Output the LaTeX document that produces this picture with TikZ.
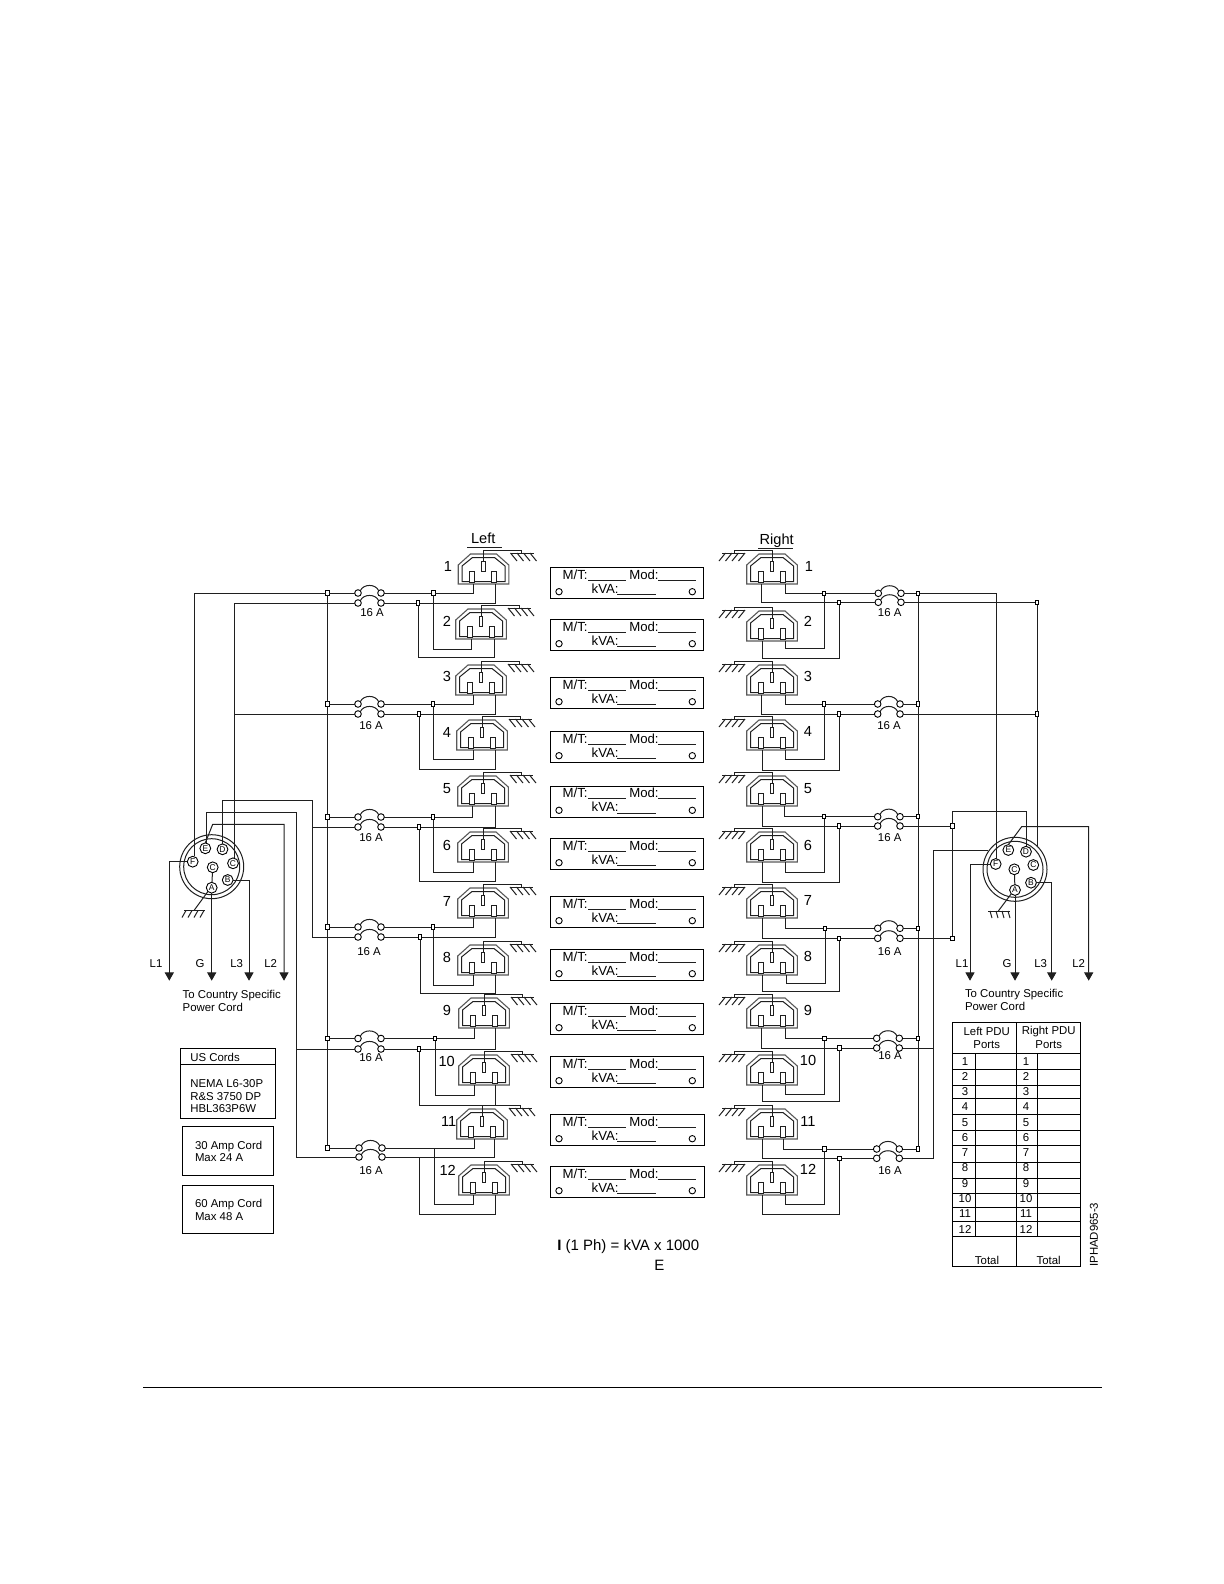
\documentclass[tikz,border=0pt]{standalone}
\usepackage{fontspec}
\setmainfont{Liberation Sans}
\usetikzlibrary{arrows.meta}
\newcommand{\fsS}{\fontsize{5.7bp}{6.7bp}\selectfont}
\newcommand{\fsM}{\fontsize{6.6bp}{7.6bp}\selectfont}
\newcommand{\fsL}{\fontsize{7.3bp}{8.3bp}\selectfont}
\newcommand{\fsF}{\fontsize{7.5bp}{8.5bp}\selectfont}
\newcommand{\fsP}{\fontsize{4.2bp}{5bp}\selectfont}
\tikzset{
  x=0.5bp,y=-0.5bp,
  wire/.style={line width=0.5bp,black!88},
  shell/.style={line width=0.55bp,black!65},
  frame/.style={line width=0.5bp,black},
  txt/.style={inner sep=0pt,outer sep=0pt,font=\fsS},
  txtm/.style={inner sep=0pt,outer sep=0pt,font=\fsM},
  txtl/.style={inner sep=0pt,outer sep=0pt,font=\fsL},
  txtf/.style={inner sep=0pt,outer sep=0pt,font=\fsF},
  jsq/.style={draw,line width=0.5bp,fill=white,rectangle,minimum width=1.9bp,minimum height=2.2bp,inner sep=0pt,outer sep=0pt},
  jno/.style={inner sep=0pt,outer sep=0pt,minimum size=0pt},
  brk/.style={draw,line width=0.45bp,circle,fill=white,minimum size=3.3bp,inner sep=0pt,outer sep=0pt},
  plug/.style={draw,line width=0.45bp,circle,fill=white,minimum size=5.4bp,inner sep=0pt,outer sep=0pt,font=\fsP},
  hole/.style={draw,line width=0.45bp,circle,minimum size=3.2bp,inner sep=0pt,outer sep=0pt},
  tip/.style={-{Triangle[width=4.6bp,length=4.2bp]}},
}
% outlet: x, top y, horizontal mirror (1 = earth on right, -1 = earth on left)
\newcommand{\outlet}[3]{%
  \begin{scope}[shift={(#1,#2)}]
    \draw[shell] (-25.3,30) -- (-25.3,11) -- (-13,0) -- (13,0) -- (25.3,11) -- (25.3,30) -- cycle;
    \draw[wire] (-21.5,27.5) -- (-21.5,12) -- (-11,3.5) -- (11,3.5) -- (21.5,12) -- (21.5,27.5) -- cycle;
    \draw[wire,fill=white] (-1.7,7.7) rectangle (1.7,17.7);
    \draw[wire,fill=white] (-14,17.7) rectangle (-9,28.2);
    \draw[wire,fill=white] (8,17.7) rectangle (13,28.2);
    \begin{scope}[xscale=#3]
      \draw[wire] (0,7.7) -- (0,-3.8) -- (38,-3.8) -- (38,-1);
      \draw[wire] (27,-1) -- (50,-1);
      \draw[wire] (27,-1) -- ++(6.5,8);
      \draw[wire] (33.5,-1) -- ++(6.5,8);
      \draw[wire] (40,-1) -- ++(6.5,8);
      \draw[wire] (46.5,-1) -- ++(6.5,8);
    \end{scope}
  \end{scope}}
\newcommand{\breaker}[7]{% name, xl, xr, y1, y2, label x, label y
  \node[brk] (Btl#1) at (#2,#4) {};
  \node[brk] (Btr#1) at (#3,#4) {};
  \node[brk] (Bbl#1) at (#2,#5) {};
  \node[brk] (Bbr#1) at (#3,#5) {};
  \draw[wire] (Btl#1.north east) .. controls +(3,-7) and +(-3,-7) .. (Btr#1.north west);
  \draw[wire] (Bbl#1.north east) .. controls +(3,-7) and +(-3,-7) .. (Bbr#1.north west);
  \node[txt] (Bt#1) at (#6,#7) {16 A};}
\begin{document}
\begin{tikzpicture}
\useasboundingbox (0,0) rectangle (1224,1584);

% ---------- left outlets
\foreach \k/\cx/\tp/\fa/\fb in {1/483.5/554/473/495.3,2/481/609/471/494.3,3/481/665/473.3/495.3,4/482/720/473/495,5/483/776/472.7/495.3,6/483/832/473/495.3,7/483/888/473/495.3,8/483/945/473/495.3,9/484/998/474.3/495.3,10/484/1055/474/495.3,11/482/1109/474.3/494.7,12/484/1165/473/495.7}{
  \outlet{\cx}{\tp}{1}
  \coordinate (La\k) at (\fa,\tp+30);
  \coordinate (Lb\k) at (\fb,\tp+30);
}
% ---------- right outlets
\foreach \k/\cx/\tp/\fa/\fb in {1/772/554/785/761.7,2/772/611/785.3/762.3,3/772/665/785/761.7,4/772/720/785.3/762.3,5/772/776/784.7/762.3,6/772/832/785.3/762.3,7/772/888/785.3/762.3,8/772/945/786/762,9/772/998/785/761.7,10/772/1055/785.3/762.5,11/772/1109/783/762,12/772/1165/785/762}{
  \outlet{\cx}{\tp}{-1}
  \coordinate (Ra\k) at (\fa,\tp+30);
  \coordinate (Rb\k) at (\fb,\tp+30);
}
% ---------- outlet numbers
\foreach \k/\nx/\ny in {1/448/566,2/447/621,3/447/676,4/447/732,5/447/789,6/447/845,7/447/901,8/447/957,9/447/1010,10/446.7/1061.7,11/448.7/1121,12/447.7/1170}{
  \node[txtl] (Ln\k) at (\nx,\ny) {\k};}
\foreach \k/\nx/\ny in {1/809/566,2/808/621,3/808/676.7,4/808/731.7,5/808/789,6/808/845,7/808/900.7,8/808/956.7,9/808/1010,10/808/1060,11/808/1121.7,12/808/1169}{
  \node[txtl] (Rn\k) at (\nx,\ny) {\k};}

\node[txtl] (headL) at (483.3,538) {Left};
\draw[wire] (467.3,547.3) -- (501.7,547.3);
\node[txtl] (headR) at (776.7,540.7) {Right};
\draw[wire] (758.3,548.3) -- (793.3,548.3);

% ---------- left breakers and wiring
\breaker{lA}{358}{381}{593}{603}{372}{613}
\breaker{lB}{358}{381}{704}{714}{371}{726}
\breaker{lC}{358}{381}{817}{827}{371}{838}
\breaker{lD}{358}{381}{927}{937}{369}{952}
\breaker{lE}{358}{381}{1038.5}{1049}{371}{1058}
\breaker{lF}{359}{382}{1148}{1157}{371}{1171}

\foreach \rw/\yo/\yt/\jo/\jt/\up/\dn/\lo/\lt/\js in {A/593/603/433.3/418/1/2/649/657/jsq,B/704/714/433/419/3/4/759/769/jsq,C/817/827/433/419/5/6/872.7/881/jsq,D/927/937/433/420/7/8/985/993/jsq,E/1038.5/1049/435/419/9/10/1095/1105.7/jsq,F/1148/1157/434.7/419.7/11/12/1204/1214/jno}{
  \node[jsq] (SL\rw) at (327.5,\yo) {};
  \node[\js] (JLa\rw) at (\jo,\yo) {};
  \node[\js] (JLb\rw) at (\jt,\yt) {};
  \draw[wire] (SL\rw) -- (Btll\rw);
  \draw[wire] (Btrl\rw) -- (JLa\rw) -| (La\up);
  \draw[wire] (Bbrl\rw) -- (JLb\rw) -| (Lb\up);
  \draw[wire] (JLa\rw) |- (La\dn |- 0,\lo) -- (La\dn);
  \draw[wire] (JLb\rw) |- (Lb\dn |- 0,\lt) -- (Lb\dn);
}
\draw[wire] (SLA) -- (SLB) -- (SLC) -- (SLD) -- (SLE) -- (SLF);

% ---------- right breakers and wiring
\breaker{rA}{878.3}{901}{593.3}{602.3}{889.7}{613}
\breaker{rB}{877.7}{900}{704}{714}{889}{725.7}
\breaker{rC}{877.7}{900}{816.7}{826}{889.7}{838}
\breaker{rD}{877.7}{900}{928.3}{938.3}{889.7}{952}
\breaker{rE}{876.7}{899.3}{1038.3}{1048}{890}{1056}
\breaker{rF}{876.7}{899.3}{1149}{1158.3}{890}{1170.7}

\foreach \rw/\yo/\yt/\jo/\jt/\up/\dn/\lo/\lt in {A/593.3/602.3/824/839/1/2/648/658,B/704/714/824/839/3/4/759.3/770,C/816.7/826/824/839/5/6/872/882,D/928.3/938.3/825/839/7/8/983.3/991,E/1038.3/1048/824.3/839.7/9/10/1094/1101,F/1149/1158.3/824.3/839.3/11/12/1204/1214}{
  \node[jsq] (SR\rw) at (918,\yo) {};
  \node[jsq] (JRa\rw) at (\jo,\yo) {};
  \node[jsq] (JRb\rw) at (\jt,\yt) {};
  \draw[wire] (Btrr\rw) -- (SR\rw);
  \draw[wire] (Btlr\rw) -- (JRa\rw) -| (Ra\up);
  \draw[wire] (Bblr\rw) -- (JRb\rw) -| (Rb\up);
  \draw[wire] (JRa\rw) |- (Ra\dn |- 0,\lo) -- (Ra\dn);
  \draw[wire] (JRb\rw) |- (Rb\dn |- 0,\lt) -- (Rb\dn);
}
\draw[wire] (SRA) -- (SRB) -- (SRC) -- (SRD) -- (SRE) -- (SRF);

% ---------- left plug
\coordinate (lpc) at (211.7,866.7);
\draw[wire] (lpc) circle[radius=32];
\draw[wire] (lpc) circle[radius=28];
\node[plug] (lE) at (205.3,848.3) {E};
\node[plug] (lD) at (222.5,849.3) {D};
\node[plug] (lC) at (233,863.3) {C};
\node[plug] (lF) at (192.7,861.7) {F};
\node[plug] (lG) at (212.7,867.3) {C};
\node[plug] (lB) at (227.7,880) {B};
\node[plug] (lA) at (211.7,887.7) {A};
\draw[wire] (lG) -- (lA);
\coordinate (lgnd) at (194,910.5);
\draw[wire] (lA.south west) -- (lgnd);
\draw[wire] (184,910.5) -- (205,910.5);
\foreach \tx in {186,192,198,204}{\draw[wire] (\tx,910.5) -- ++(-4,7);}

\coordinate (lArrF) at (169.3,980.7);
\coordinate (lArrG) at (211.7,980.7);
\coordinate (lArrB) at (249,980.7);
\coordinate (lArrE) at (284,980.7);
\draw[wire,tip] (lF.west) -| (lArrF);
\draw[wire,tip] (lA.south) -- (lArrG);
\draw[wire,tip] (lB.east) -| (lArrB);
\coordinate (lEk) at (212.7,824.3);
\draw[wire,tip] (lE.north) -- (lEk) -| (lArrE);

% left feeders
\coordinate (lf1) at (194.3,593);
\draw[wire] (SLA) -- (lf1) -- (lf1 |- lF.north);
\coordinate (lf2) at (234,603);
\coordinate (lf2b) at (234,714);
\draw[wire] (BbllA) -- (lf2);
\draw[wire] (BbllB) -- (lf2b);
\draw[wire] (lf2) -- (lf2 |- lC.north);
\coordinate (lf3) at (312.7,800);
\coordinate (lf3c) at (312.7,827);
\coordinate (lf3d) at (312.7,937);
\draw[wire] (lD.north) |- (lf3) -- (lf3d) -- (BbllD);
\draw[wire] (lf3c) -- (BbllC);
\coordinate (lf4) at (296.7,812.3);
\coordinate (lf4e) at (296.7,1049);
\coordinate (lf4f) at (296.7,1157);
\coordinate (lf4s) at (206.7,843);
\draw[wire] (lf4s) |- (lf4) -- (lf4f) -- (BbllF);
\draw[wire] (lf4e) -- (BbllE);

% ---------- right plug
\coordinate (rpc) at (1015,869.3);
\draw[wire] (rpc) circle[radius=32];
\draw[wire] (rpc) circle[radius=28];
\node[plug] (rE) at (1008.3,850) {E};
\node[plug] (rD) at (1026,851.7) {D};
\node[plug] (rC) at (1033.3,865) {C};
\node[plug] (rF) at (995.7,864) {F};
\node[plug] (rG) at (1014.3,869.3) {C};
\node[plug] (rB) at (1031,882.7) {B};
\node[plug] (rA) at (1015,890) {A};
\draw[wire] (rG) -- (rA);
\coordinate (rgnd) at (998.3,911);
\draw[wire] (rA.south west) -- (rgnd);
\draw[wire] (988.3,911) -- (1010,911);
\foreach \tx in {990,996,1002,1008}{\draw[wire] (\tx,911) -- ++(2,7);}

\coordinate (rArrF) at (970,980.7);
\coordinate (rArrG) at (1015,980.7);
\coordinate (rArrB) at (1051.7,980.7);
\coordinate (rArrE) at (1088.7,980.7);
\draw[wire,tip] (rF.west) -| (rArrF);
\draw[wire,tip] (rA.south) -- (rArrG);
\draw[wire,tip] (rB.east) -| (rArrB);
\coordinate (rEk) at (1021.7,826.7);
\draw[wire,tip] (rE.north) -- (rEk) -| (rArrE);

% right feeders
\coordinate (rf1) at (996,593.3);
\draw[wire] (SRA) -- (rf1) -- (rf1 |- rF.north);
\node[jsq] (rqA) at (1037,602.3) {};
\node[jsq] (rqB) at (1037,714) {};
\coordinate (rf2e) at (1037,846);
\draw[wire] (BbrrA) -- (rqA) -- (rqB) -- (rf2e);
\draw[wire] (BbrrB) -- (rqB);
\node[jsq] (rqC) at (952.7,826) {};
\node[jsq] (rqD) at (952.7,938.3) {};
\coordinate (rf3) at (952.7,811);
\draw[wire] (BbrrC) -- (rqC) -- (rqD) -- (BbrrD);
\draw[wire] (rqC) -- (rf3) -| (rD.north);
\coordinate (rf4e) at (933.3,1048);
\coordinate (rf4f) at (933.3,1158.3);
\coordinate (rf4t) at (933.3,850);
\coordinate (rf4s) at (988,850);
\draw[wire] (BbrrF) -- (rf4f) -- (rf4t) -- (rf4s);
\draw[wire] (BbrrE) -- (rf4e);

% ---------- plug labels
\foreach \n/\nx/\t in {a/156/L1,b/200/G,c/236.7/L3,d/270.7/L2,e/962/L1,f/1007/G,g/1040.7/L3,h/1078.7/L2}{
  \node[txt] (Lbl\n) at (\nx,964) {\t};}
\node[txt,anchor=base west] (cordLa) at (182.7,998) {To Country Specific};
\node[txt,anchor=base west] (cordLb) at (182.7,1011) {Power Cord};
\node[txt,anchor=base west] (cordRa) at (965,997) {To Country Specific};
\node[txt,anchor=base west] (cordRb) at (965,1010) {Power Cord};

% ---------- left boxes
\draw[frame] (180.7,1048.3) rectangle (275.3,1118.3);
\draw[frame] (180.7,1064.3) -- (275.3,1064.3);
\node[txt,anchor=base west] (usA) at (190.3,1061.5) {US Cords};
\node[txt,anchor=base west] (usB) at (190.3,1087) {NEMA L6-30P};
\node[txt,anchor=base west] (usC) at (190.3,1100) {R\&S 3750 DP};
\node[txt,anchor=base west] (usD) at (190.3,1112.5) {HBL363P6W};
\draw[frame] (182.7,1126.7) rectangle (273.3,1175.3);
\node[txt,anchor=base west] (ampA) at (195,1149) {30 Amp Cord};
\node[txt,anchor=base west] (ampB) at (195,1161.7) {Max 24 A};
\draw[frame] (182.7,1185.7) rectangle (273.3,1233.3);
\node[txt,anchor=base west] (ampC) at (195,1207) {60 Amp Cord};
\node[txt,anchor=base west] (ampD) at (195,1220) {Max 48 A};

% ---------- centre tags
\foreach \n/\tp/\rgt in {1/567.7/703.7,2/619.7/703.7,3/677.7/703.7,4/731.7/703.7,5/786.3/703.7,6/838.7/703.7,7/896.7/703.7,8/949.7/703.7,9/1003.7/703.7,10/1056.7/703.7,11/1114.7/704.3,12/1166.7/704.3}{
  \begin{scope}[shift={(0,\tp)}]
    \draw[frame] (550.3,0) rectangle (\rgt,31);
    \node[txtm,anchor=base west] (tm\n) at (562.7,11.5) {M/T:};
    \node[txtm,anchor=base west] (tn\n) at (629.3,11.5) {Mod:};
    \node[txtm,anchor=base west] (tk\n) at (591.7,25.5) {kVA:};
    \draw[wire] (588.3,12.5) -- (626,12.5);
    \draw[wire] (658.3,12.5) -- (696,12.5);
    \draw[wire] (617.3,26.7) -- (656,26.7);
    \node[hole] (ha\n) at (559,24) {};
    \node[hole] (hb\n) at (692.3,24) {};
  \end{scope}
}
\node[txtf,anchor=base west] (formula) at (557.3,1250) {\textbf{I} (1 Ph) = kVA x 1000};
\node[txtf] (formE) at (659.3,1265) {E};

% ---------- table
\draw[frame] (952.3,1022.7) rectangle (1080,1266.7);
\draw[frame] (1016,1022.7) -- (1016,1266.7);
\draw[frame] (975.7,1053.3) -- (975.7,1236);
\draw[frame] (1037.3,1053.3) -- (1037.3,1236);
\foreach \ly in {1053.3,1069.3,1085.3,1098.3,1114.3,1130,1145.3,1162.7,1178.3,1193.3,1207.7,1221.7,1236}{
  \draw[frame] (952.3,\ly) -- (1080,\ly);}
\node[txt] (thLa) at (986.7,1031.7) {Left PDU};
\node[txt] (thLb) at (986.7,1044.3) {Ports};
\node[txt] (thRa) at (1048.7,1031.7) {Right PDU};
\node[txt] (thRb) at (1048.7,1044.3) {Ports};
\foreach \k/\ry in {1/1061.7,2/1076.7,3/1091.7,4/1107,5/1122.3,6/1137.7,7/1153,8/1168,9/1183.3,10/1199,11/1214,12/1229.3}{
  \node[txt] (tcL\k) at (965,\ry) {\k};
  \node[txt] (tcR\k) at (1026,\ry) {\k};
}
\node[txt] (totL) at (987,1260) {Total};
\node[txt] (totR) at (1048.7,1260) {Total};
\node[txt,rotate=90,anchor=west] (code) at (1094,1266.7) {IPHAD965-3};

% ---------- page rule
\coordinate (ruleA) at (143.4,1387.6);
\coordinate (ruleB) at (1101.8,1387.6);
\draw[frame] (ruleA) -- (ruleB);
\end{tikzpicture}
\end{document}
